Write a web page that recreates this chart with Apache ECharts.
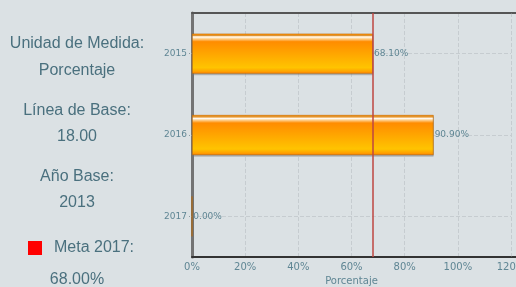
<!DOCTYPE html>
<html>
<head>
<meta charset="utf-8">
<title>Porcentaje</title>
<script src="https://cdn.jsdelivr.net/npm/echarts@6/dist/echarts.min.js"></script>
<style>
    html, body { margin: 0; padding: 0; background: #dbe1e4; }
    #chart { width: 516px; height: 287px; }
</style>
</head>
<body>
<div id="chart"></div>
<script type="text/javascript">
    // datos
    var years = ['2015', '2016', '2017'];
    var values = [68.10, 90.90, 0.00];
    var meta = 68.00;
    var xTicks = [0, 20, 40, 60, 80, 100, 120];
    var infoLines = ['Unidad de Medida:', 'Porcentaje', 'Línea de Base:', '18.00', 'Año Base:', '2013'];
    var metaLines = ['Meta 2017:', '68.00%'];

    var txtColor = '#4a707e';
    var axColor = '#5f8694';
    var txtFont = '16px "Liberation Sans", Arial, sans-serif';

    var barColor = new echarts.graphic.LinearGradient(0, 0, 0, 1, [
        { offset: 0, color: '#ff8c00' },
        { offset: 0.05, color: '#ffa020' },
        { offset: 0.08, color: '#ffffff' },
        { offset: 0.12, color: '#ffd9a0' },
        { offset: 0.2, color: '#ff8c00' },
        { offset: 0.85, color: '#ffc400' },
        { offset: 0.95, color: '#ffa000' },
        { offset: 1, color: '#ff8000' }
    ]);

    // panel izquierdo
    var infoY = [44, 71, 111, 137, 177, 203];
    var graphics = infoLines.map(function (t, i) {
        return {
            type: 'text', x: 77, y: infoY[i],
            style: { text: t, align: 'center', verticalAlign: 'middle', fill: txtColor, font: txtFont }
        };
    });
    graphics.push({ type: 'rect', shape: { x: 28, y: 241, width: 14, height: 14 }, style: { fill: '#ff0000' } });
    graphics.push({
        type: 'text', x: 54, y: 248,
        style: { text: metaLines[0], fill: txtColor, verticalAlign: 'middle', font: txtFont }
    });
    graphics.push({
        type: 'text', x: 77, y: 280,
        style: { text: metaLines[1], fill: txtColor, align: 'center', verticalAlign: 'middle', font: txtFont }
    });
    // bordes superior e inferior hasta el final
    graphics.push({ type: 'line', shape: { x1: 505, y1: 13, x2: 516, y2: 13 }, style: { stroke: '#555', lineWidth: 2 } });
    graphics.push({ type: 'line', shape: { x1: 505, y1: 257, x2: 516, y2: 257 }, style: { stroke: '#333', lineWidth: 2 } });

    var myChart = echarts.init(document.getElementById('chart'));
    myChart.setOption({
        backgroundColor: '#dbe1e4',
        animation: false,
        graphic: graphics,
        grid: { left: 192, right: 5, top: 13, bottom: 30, outerBoundsMode: 'none', containLabel: false },
        xAxis: [{
            type: 'value',
            min: xTicks[0],
            max: xTicks[xTicks.length - 1],
            interval: 20,
            name: 'Porcentaje',
            nameLocation: 'middle',
            nameGap: 19,
            nameTextStyle: { color: axColor, fontSize: 10, fontFamily: 'DejaVu Sans' },
            axisLine: { show: true, lineStyle: { color: '#333', width: 2 } },
            axisTick: { show: false },
            axisLabel: { color: axColor, fontSize: 10, fontFamily: 'DejaVu Sans', margin: 5, formatter: '{value}%' },
            splitLine: { show: true, lineStyle: { color: '#c6ccd0', type: 'dashed', width: 1 } }
        }, {
            type: 'value',
            position: 'top',
            min: xTicks[0],
            max: xTicks[xTicks.length - 1],
            axisLine: { show: true, lineStyle: { color: '#555', width: 2 } },
            axisTick: { show: false },
            axisLabel: { show: false },
            splitLine: { show: false }
        }],
        yAxis: {
            type: 'category',
            data: years,
            inverse: true,
            axisLine: { show: true, lineStyle: { color: '#737373', width: 3 } },
            axisTick: { show: true, alignWithLabel: true, length: 3, lineStyle: { color: '#8a9aa0', type: 'dotted' } },
            axisLabel: { color: axColor, fontSize: 9, fontFamily: 'DejaVu Sans', margin: 5 },
            splitLine: { show: false }
        },
        series: [{
            // lineas horizontales de fondo
            type: 'line',
            data: [],
            z: 0,
            markLine: {
                silent: true,
                z: 0,
                symbol: 'none',
                label: { show: false },
                lineStyle: { color: '#c6ccd0', type: 'dashed', width: 1 },
                data: years.map(function (y) { return { yAxis: y }; })
            }
        }, {
            name: 'Porcentaje',
            type: 'bar',
            data: values,
            barWidth: 40,
            z: 3,
            itemStyle: {
                color: barColor,
                borderColor: '#c06a00',
                borderWidth: 0.6,
                shadowColor: 'rgba(120,120,120,0.5)',
                shadowOffsetY: 1.5
            },
            label: {
                show: true,
                position: 'right',
                distance: 1,
                color: axColor,
                fontSize: 9,
                fontFamily: 'DejaVu Sans',
                formatter: function (p) { return p.value.toFixed(2) + '%'; }
            },
            markLine: {
                silent: true,
                z: 6,
                symbol: 'none',
                label: { show: false },
                lineStyle: { color: 'rgba(190,70,65,0.75)', type: 'solid', width: 2 },
                data: [{ xAxis: meta }]
            }
        }]
    });
</script>
</body>
</html>
